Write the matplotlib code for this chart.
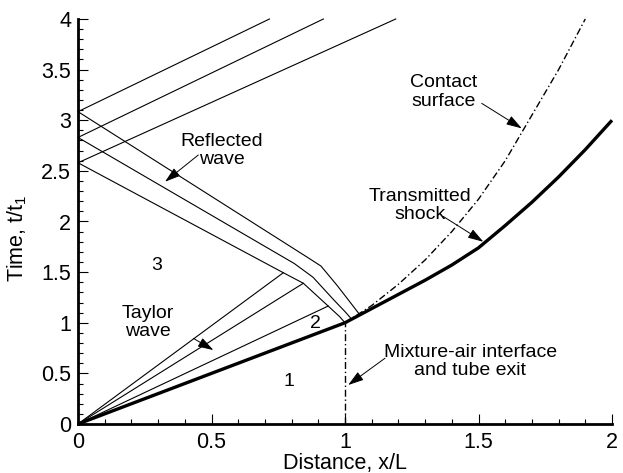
import matplotlib
matplotlib.use('Agg')
import matplotlib.pyplot as plt
from matplotlib.ticker import MultipleLocator, FormatStrFormatter

plt.rcParams['font.family'] = ['Liberation Sans', 'DejaVu Sans']
plt.rcParams['mathtext.fontset'] = 'custom'
plt.rcParams['mathtext.rm'] = 'Liberation Sans'
plt.rcParams['mathtext.it'] = 'Liberation Sans'

# incident shock + transmitted shock (thick)
shock_x = [0.0, 1.0, 1.1, 1.2, 1.3, 1.4, 1.5, 1.6, 1.7, 1.8, 1.9, 2.0]
shock_y = [0.0, 1.0, 1.14, 1.28, 1.42, 1.57, 1.74, 1.96, 2.19, 2.44, 2.71, 3.0]

# contact surface (dash-dot)
contact_x = [1.0, 1.1, 1.2, 1.3, 1.4, 1.5, 1.6, 1.7, 1.8, 1.9]
contact_y = [1.0, 1.17, 1.38, 1.62, 1.9, 2.22, 2.6, 3.05, 3.5, 4.0]

# mixture-air interface / tube exit
interface_x = [1.0, 1.0]
interface_y = [0.0, 1.0]

# Taylor wave characteristics (from origin)
taylor_end_x = [0.769, 0.844, 0.937]
taylor_end_y = [1.494, 1.39, 1.165]

# reflected wave characteristics (going down from the wall)
refl_a_x = [0.0, 0.769, 0.844, 0.937, 0.98, 1.0]
refl_a_y = [2.58, 1.494, 1.39, 1.165, 1.06, 1.0]
refl_b_x = [0.0, 0.81, 0.88, 0.96, 1.0, 1.025]
refl_b_y = [2.83, 1.585, 1.45, 1.22, 1.11, 1.035]
refl_c_x = [0.0, 0.86, 0.91, 0.97, 1.02, 1.055]
refl_c_y = [3.085, 1.645, 1.56, 1.37, 1.2, 1.08]

# waves reflected off the wall going up
up_start_y = [3.085, 2.83, 2.58]
up_end_x = [0.717, 0.919, 1.19]
up_end_y = [4.0, 4.0, 4.0]

DASHDOT = (0, (5, 2, 1, 2))


def draw_diagram():
    '''x-t 다이어그램을 그립니다.'''
    fig = plt.figure(figsize = (6.23, 4.73), dpi = 100)
    ax = fig.add_axes([78 / 623, 1 - 424 / 473, 534 / 623, 405 / 473])

    # 얇은 특성선
    for xe, ye in zip(taylor_end_x, taylor_end_y):
        ax.plot([0, xe], [0, ye], color = 'k', lw = 0.8, clip_on = False)
    for rx, ry in [(refl_a_x, refl_a_y), (refl_b_x, refl_b_y), (refl_c_x, refl_c_y)]:
        ax.plot(rx, ry, color = 'k', lw = 0.8, clip_on = False)
    for ys, xe, ye in zip(up_start_y, up_end_x, up_end_y):
        ax.plot([0, xe], [ys, ye], color = 'k', lw = 0.8, clip_on = False)

    # 접촉면, 계면
    ax.plot(contact_x, contact_y, color = 'k', lw = 1.0, linestyle = DASHDOT, clip_on = False)
    ax.plot(interface_x, interface_y, color = 'k', lw = 1.0, linestyle = DASHDOT, clip_on = False)

    # 충격파
    ax.plot(shock_x, shock_y, color = 'k', lw = 2.4, solid_capstyle = 'butt', clip_on = False)

    # 라벨과 화살표
    fs = 14
    ax.text(0.538, 2.70, 'Reflected\nwave', ha = 'center', va = 'center', fontsize = fs, linespacing = 1.1)
    ax.text(0.26, 1.0, 'Taylor\nwave', ha = 'center', va = 'center', fontsize = fs, linespacing = 1.1)
    ax.text(1.371, 3.28, 'Contact\nsurface', ha = 'center', va = 'center', fontsize = fs, linespacing = 1.1)
    ax.text(1.281, 2.16, 'Transmitted\nshock', ha = 'center', va = 'center', fontsize = fs, linespacing = 1.1)
    ax.text(1.47, 0.618, 'Mixture-air interface\nand tube exit', ha = 'center', va = 'center',
            fontsize = fs, linespacing = 1.1)
    ax.text(0.295, 1.57, '3', ha = 'center', va = 'center', fontsize = fs)
    ax.text(0.888, 0.995, '2', ha = 'center', va = 'center', fontsize = fs)
    ax.text(0.79, 0.42, '1', ha = 'center', va = 'center', fontsize = fs)

    arrows = [((0.4506, 2.657), (0.326, 2.393)),
              ((0.432, 0.846), (0.507, 0.73)),
              ((1.512, 3.167), (1.662, 2.92)),
              ((1.368, 2.05), (1.518, 1.80)),
              ((1.15, 0.65), (1.012, 0.385))]
    for tail, tip in arrows:
        ax.annotate('', xy = tip, xytext = tail,
                    arrowprops = dict(arrowstyle = '-|>,head_length=0.95,head_width=0.3',
                                      color = 'k', lw = 0.7, mutation_scale = 10,
                                      shrinkA = 0, shrinkB = 0))

    # 축
    ax.set_xlim(0, 2)
    ax.set_ylim(0, 4)
    ax.spines['top'].set_visible(False)
    ax.spines['right'].set_visible(False)
    ax.spines['left'].set_linewidth(2)
    ax.spines['bottom'].set_linewidth(2)
    ax.xaxis.set_major_locator(MultipleLocator(0.5))
    ax.xaxis.set_minor_locator(MultipleLocator(0.1))
    ax.yaxis.set_major_locator(MultipleLocator(0.5))
    ax.yaxis.set_minor_locator(MultipleLocator(0.1))
    ax.xaxis.set_major_formatter(FormatStrFormatter('%g'))
    ax.yaxis.set_major_formatter(FormatStrFormatter('%g'))
    ax.tick_params(which = 'major', direction = 'in', length = 7.5, width = 0.8, labelsize = 15.5)
    ax.tick_params(which = 'minor', direction = 'in', length = 3.8, width = 0.8)
    ax.tick_params(axis = 'x', which = 'major', pad = 6)
    ax.tick_params(axis = 'y', which = 'major', pad = 5)

    ax.set_xlabel('Distance, x/L', fontsize = 15.5)
    ax.set_ylabel('Time, t/t$_1$', fontsize = 15.5)
    ax.xaxis.set_label_coords(0.5, -0.071)
    ax.yaxis.set_label_coords(-0.092, 0.458)

    return fig, ax


def main():
    fig, ax = draw_diagram()
    fig.savefig('out.png', dpi = 100)


if __name__ == '__main__':
    main()
